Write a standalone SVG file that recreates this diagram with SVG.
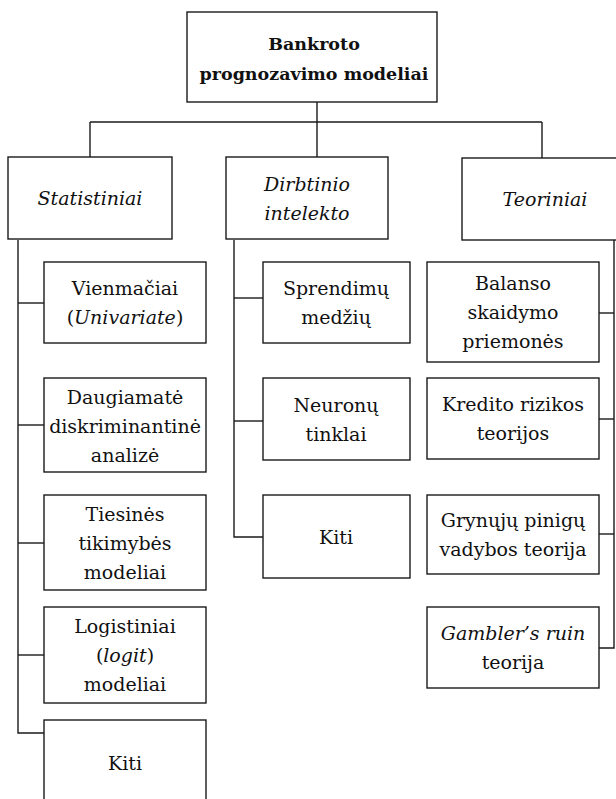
<svg xmlns="http://www.w3.org/2000/svg" width="616" height="799" viewBox="0 0 616 799">
<style>
rect{fill:#fff;stroke:#1a1a1a;stroke-width:1.4}
.c line,.c path{stroke:#1a1a1a;stroke-width:1.4;fill:none}
text{font-family:'DejaVu Serif','Liberation Serif',serif;font-size:19px;fill:#111;text-anchor:middle}
.b{font-weight:bold;font-size:17.5px}
.i{font-style:italic}
</style>
<rect width="616" height="799" style="stroke:none"/>
<g class="c" id="connectors">
<line x1="317" y1="102" x2="317" y2="157"/>
<line x1="90" y1="122" x2="542" y2="122"/>
<line x1="90" y1="122" x2="90" y2="157"/>
<line x1="542" y1="122" x2="542" y2="158"/>
<path d="M18 240 V733 H44"/>
<line x1="18" y1="303" x2="44" y2="303"/>
<line x1="18" y1="425" x2="44" y2="425"/>
<line x1="18" y1="543" x2="44" y2="543"/>
<line x1="18" y1="655" x2="44" y2="655"/>
<path d="M234 240 V537 H263"/>
<line x1="234" y1="298" x2="263" y2="298"/>
<line x1="234" y1="421" x2="263" y2="421"/>
<path d="M614 240 V648 H599"/>
<line x1="599" y1="313" x2="614" y2="313"/>
<line x1="599" y1="419" x2="614" y2="419"/>
<line x1="599" y1="534" x2="614" y2="534"/>
</g>
<g id="root"><rect x="187" y="12" width="250" height="90"/><text class="b" x="314" y="50">Bankroto</text><text class="b" x="314" y="80">prognozavimo modeliai</text></g>
<g id="statistiniai"><rect x="8" y="157" width="164" height="82"/><text class="i" x="90" y="205">Statistiniai</text></g>
<g id="dirbtinio"><rect x="226" y="157" width="162" height="82"/><text class="i" x="307" y="191">Dirbtinio</text><text class="i" x="307" y="220">intelekto</text></g>
<g id="teoriniai"><rect x="462" y="158" width="170" height="82"/><text class="i" x="545" y="206">Teoriniai</text></g>
<g id="vienmaciai"><rect x="44" y="262" width="162" height="81"/><text x="125" y="295">Vienmačiai</text><text x="125" y="324">(<tspan class="i">Univariate</tspan>)</text></g>
<g id="daugiamate"><rect x="44" y="378" width="162" height="94"/><text x="125" y="404">Daugiamatė</text><text x="125" y="433">diskriminantinė</text><text x="125" y="462">analizė</text></g>
<g id="tiesines"><rect x="44" y="495" width="162" height="95"/><text x="125" y="521">Tiesinės</text><text x="125" y="550">tikimybės</text><text x="125" y="579">modeliai</text></g>
<g id="logistiniai"><rect x="44" y="607" width="162" height="96"/><text x="125" y="633">Logistiniai</text><text x="125" y="662">(<tspan class="i">logit</tspan>)</text><text x="125" y="691">modeliai</text></g>
<g id="kiti1"><rect x="44" y="720" width="162" height="90"/><text x="125" y="770">Kiti</text></g>
<g id="sprendimu"><rect x="263" y="262" width="147" height="81"/><text x="336" y="295">Sprendimų</text><text x="336" y="324">medžių</text></g>
<g id="neuronu"><rect x="263" y="378" width="147" height="82"/><text x="336" y="412">Neuronų</text><text x="336" y="441">tinklai</text></g>
<g id="kiti2"><rect x="263" y="495" width="147" height="83"/><text x="336" y="544">Kiti</text></g>
<g id="balanso"><rect x="427" y="262" width="172" height="100"/><text x="513" y="290">Balanso</text><text x="513" y="319">skaidymo</text><text x="513" y="348">priemonės</text></g>
<g id="kredito"><rect x="427" y="378" width="172" height="81"/><text x="513" y="411">Kredito rizikos</text><text x="513" y="440">teorijos</text></g>
<g id="grynuju"><rect x="427" y="495" width="172" height="79"/><text x="513" y="527">Grynųjų pinigų</text><text x="513" y="556">vadybos teorija</text></g>
<g id="gamblers"><rect x="427" y="607" width="172" height="81"/><text x="513" y="640"><tspan class="i">Gambler’s ruin</tspan></text><text x="513" y="669">teorija</text></g>
</svg>
